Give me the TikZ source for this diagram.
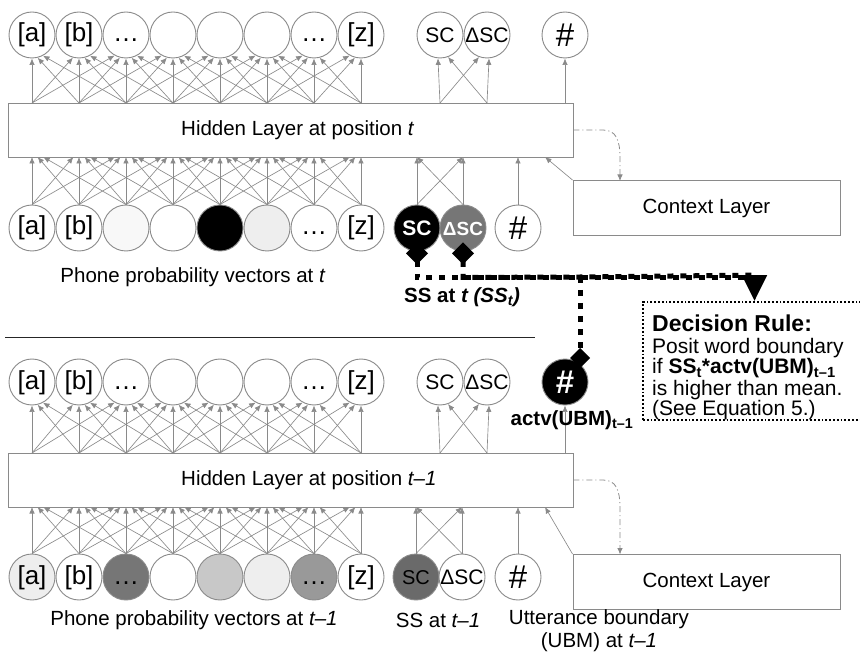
\documentclass[tikz,border=0pt]{standalone}
\usepackage{fontspec}
\setmainfont{Liberation Sans}
\usetikzlibrary{arrows.meta,calc}
\definecolor{wire}{HTML}{8A8A8A}
\definecolor{ring}{HTML}{8A8A8A}
\definecolor{pale}{HTML}{F8F8F8}
\definecolor{lite}{HTML}{EEEEEE}
\definecolor{midg}{HTML}{C8C8C8}
\definecolor{darkg}{HTML}{767676}
\definecolor{dimg}{HTML}{999999}
\definecolor{scg}{HTML}{6A6A6A}
\newcommand\fs[1]{\fontsize{#1}{#1}\selectfont}
\begin{document}
\begin{tikzpicture}[x=1pt,y=-1pt,
  unit/.style={circle,draw=ring,line width=0.9pt,minimum size=46pt,inner sep=0pt,fill=white,font=\fs{26},text height=19pt,text depth=5pt},
  tag/.style={unit,font=\fs{21},text height=15pt,text depth=0pt},
  hashu/.style={unit,font=\fs{33},text height=23pt,text depth=0pt},
  layer/.style={draw=ring,line width=0.9pt,fill=white,inner sep=0pt,minimum width=565pt,minimum height=54pt},
  ctxbox/.style={draw=ring,line width=0.9pt,fill=white,inner sep=0pt,minimum width=267pt,minimum height=55pt,font=\fs{20.5}},
  link/.style={draw=wire,line width=0.65pt,-{Latex[length=6.5pt,width=5.5pt]}},
  ctxlink/.style={draw=wire,line width=0.8pt,dash pattern=on 6pt off 3pt on 1pt off 3pt,-{Latex[length=6.5pt,width=5.5pt]}},
  ssline/.style={line width=5pt,dash pattern=on 6pt off 7pt},
  lbl/.style={font=\fs{20.5},inner sep=0pt},
  blbl/.style={font=\bfseries\fs{20.5},inner sep=0pt},
]
\useasboundingbox (0,0) rectangle (860,655);

% ---------------- upper network (position t) ----------------
\node[layer] (hidU) at (290.5,130) {};
\node[lbl,anchor=west] (hidUt) at (181,130) {Hidden Layer at position \textit{t}};
\node[ctxbox] (ctxU) at (706.5,208) {Context Layer};

\foreach \i/\t in {0/{[a]},1/{[b]},2/{…},3/{},4/{},5/{},6/{…},7/{[z]}}{
  \pgfmathsetmacro\xx{32+47*\i}
  \node[unit] (uo\i) at (\xx,35) {\t};
  \coordinate (ut\i) at (\xx,103);
  \coordinate (ub\i) at (\xx,157);
}
\foreach \i/\t/\f in {0/{[a]}/white,1/{[b]}/white,2/{}/pale,3/{}/white,4/{}/black,5/{}/lite,6/{…}/white,7/{[z]}/white}{
  \pgfmathsetmacro\xx{32+47*\i}
  \node[unit,fill=\f] (ui\i) at (\xx,228) {\t};
}
\node[tag] (uosc) at (440,35) {SC};
\node[tag] (uodsc) at (487,35) {ΔSC};
\node[hashu] (uohash) at (565,35) {\#};
\node[tag,fill=black,text=white,font=\bfseries\fs{21}] (uisc) at (417,228) {SC};
\node[tag,fill=darkg,text=white,font=\bfseries\fs{19}] (uidsc) at (463,228) {ΔSC};
\node[hashu] (uihash) at (518,228) {\#};

\coordinate (utsc) at (440,103);
\coordinate (utdsc) at (487,103);
\coordinate (uthash) at (565,103);
\coordinate (ubsc) at (417,157);
\coordinate (ubdsc) at (463,157);
\coordinate (ubhash) at (518,157);
\coordinate (ubctx) at (545,157);
\coordinate (uctxin) at (620,181);

% hidden -> phone outputs
\foreach \k in {0,...,7}{
  \foreach \d in {-2,...,2}{
    \pgfmathtruncatemacro\j{\k+\d}
    \pgfmathsetmacro\ang{270+14.3*\d}
    \ifnum\j>-1\relax\ifnum\j<8\relax
      \draw[link] (ut\j) -- (uo\k.\ang);
    \fi\fi}}
% phone inputs -> hidden
\foreach \k in {0,...,7}{
  \foreach \d in {-2,...,2}{
    \pgfmathtruncatemacro\j{\k+\d}
    \ifnum\j>-1\relax\ifnum\j<8\relax
      \draw[link] (ui\j.north) -- ($(ub\k)+({5.6*\d},0)$);
    \fi\fi}}
\draw[link] (utsc) -- (uosc.265);
\draw[link] (utdsc) -- (uosc.290);
\draw[link] (utsc) -- (uodsc.250);
\draw[link] (utdsc) -- (uodsc.275);
\draw[link] (uthash) -- (uohash.south);
\draw[link] (uisc.north) -- (ubsc);
\draw[link] (uisc.north) -- (ubdsc);
\draw[link] (uidsc.north) -- (ubsc);
\draw[link] (uidsc.north) -- (ubdsc);
\draw[link] (uihash.north) -- (ubhash);
\draw[link] (ctxU.north west) -- (ubctx);
\draw[ctxlink] (hidU.east) -- (603,130) .. controls (616,130) and (620,140) .. (620,158) -- (uctxin);

\node[lbl] (uphone) at (193,277) {Phone probability vectors at \textit{t}};

% separator between the two time steps
\draw[black!85,line width=0.8pt] (5,337) -- (535,337);

% ---------------- lower network (position t-1) ----------------
\node[layer] (hidL) at (290.5,480) {};
\node[lbl,anchor=west] (hidLt) at (181,480) {Hidden Layer at position \textit{t\textendash 1}};
\node[ctxbox] (ctxL) at (706.5,582) {Context Layer};

\foreach \i/\t in {0/{[a]},1/{[b]},2/{…},3/{},4/{},5/{},6/{…},7/{[z]}}{
  \pgfmathsetmacro\xx{32+47*\i}
  \node[unit] (lo\i) at (\xx,382) {\t};
  \coordinate (lt\i) at (\xx,453);
  \coordinate (lb\i) at (\xx,507);
}
\foreach \i/\t/\f in {0/{[a]}/lite,1/{[b]}/white,2/{…}/darkg,3/{}/white,4/{}/midg,5/{}/lite,6/{…}/dimg,7/{[z]}/white}{
  \pgfmathsetmacro\xx{32+47*\i}
  \node[unit,fill=\f] (li\i) at (\xx,577) {\t};
}
\node[tag] (losc) at (440,382) {SC};
\node[tag] (lodsc) at (487,382) {ΔSC};
\node[hashu,fill=black,text=white,font=\bfseries\fs{33}] (lohash) at (565,382) {\#};
\node[tag,fill=scg,font=\fs{20}] (lisc) at (416,577) {SC};
\node[tag] (lidsc) at (462,577) {ΔSC};
\node[hashu] (lihash) at (518,577) {\#};

\coordinate (ltsc) at (440,453);
\coordinate (ltdsc) at (487,453);
\coordinate (lthash) at (565,453);
\coordinate (lbsc) at (416,507);
\coordinate (lbdsc) at (462,507);
\coordinate (lbhash) at (518,507);
\coordinate (lbctx) at (545,507);
\coordinate (lctxin) at (620,554.5);

\foreach \k in {0,...,7}{
  \foreach \d in {-2,...,2}{
    \pgfmathtruncatemacro\j{\k+\d}
    \pgfmathsetmacro\ang{270+14.3*\d}
    \ifnum\j>-1\relax\ifnum\j<8\relax
      \draw[link] (lt\j) -- (lo\k.\ang);
    \fi\fi}}
\foreach \k in {0,...,7}{
  \foreach \d in {-2,...,2}{
    \pgfmathtruncatemacro\j{\k+\d}
    \ifnum\j>-1\relax\ifnum\j<8\relax
      \draw[link] (li\j.north) -- ($(lb\k)+({5.6*\d},0)$);
    \fi\fi}}
\draw[link] (ltsc) -- (losc.265);
\draw[link] (ltdsc) -- (losc.290);
\draw[link] (ltsc) -- (lodsc.250);
\draw[link] (ltdsc) -- (lodsc.275);
\draw[link] (lthash) -- (lohash.south);
\draw[link] (lisc.north) -- (lbsc);
\draw[link] (lisc.north) -- (lbdsc);
\draw[link] (lidsc.north) -- (lbsc);
\draw[link] (lidsc.north) -- (lbdsc);
\draw[link] (lihash.north) -- (lbhash);
\draw[link] (ctxL.north west) -- (lbctx);
\draw[ctxlink] (hidL.east) -- (603,480) .. controls (616,480) and (620,490) .. (620,508) -- (lctxin);

\node[lbl] (lphone) at (194,620) {Phone probability vectors at \textit{t\textendash 1}};
\node[lbl] (lss) at (438,620) {SS at \textit{t\textendash 1}};
\node[lbl,align=center,font={\fontsize{20.5}{23}\selectfont}] (lubm) at (599,631) {Utterance boundary\\(UBM) at \textit{t\textendash 1}};

% ---------------- decision rule ----------------
\node[draw,line width=1.8pt,dash pattern=on 1.8pt off 2pt,minimum width=223pt,minimum height=118pt,inner sep=0pt] (rule) at (754.5,361) {};
\node[font=\bfseries\fs{23},anchor=west,inner sep=0pt] (ruleh) at (652,323) {Decision Rule:};
\node[font={\fontsize{21}{20.5}\selectfont},anchor=north west,inner sep=0pt,align=left] (ruleb) at (652,338)
  {Posit word boundary\\
   if \textbf{SS\textsubscript{t}*actv(UBM)\textsubscript{t\textendash 1}}\\[1pt]
   is higher than mean.\\
   (See Equation 5.)};

\node[blbl] (ssl) at (462,297) {SS at \textit{t (SS\textsubscript{t})}};
\node[blbl] (actl) at (572,420) {actv(UBM)\textsubscript{t\textendash 1}};

% summed-similarity signal lines
\coordinate (branch) at (580,277);
\draw[ssline,{Diamond[length=22pt,width=22pt]}-{Triangle[length=26pt,width=24pt]}] ($(uisc.south)+(0,-9)$) -- ++(0,35) -| (rule.north);
\draw[ssline,{Diamond[length=22pt,width=22pt]}-] ($(uidsc.south)+(0,-9)$) -- ++(0,35) -- (branch) -- ($(rule.north)+(0,-26)$);
\draw[ssline,-{Diamond[length=20pt,width=20pt]}] (branch) -- (580,368);
\end{tikzpicture}
\end{document}
